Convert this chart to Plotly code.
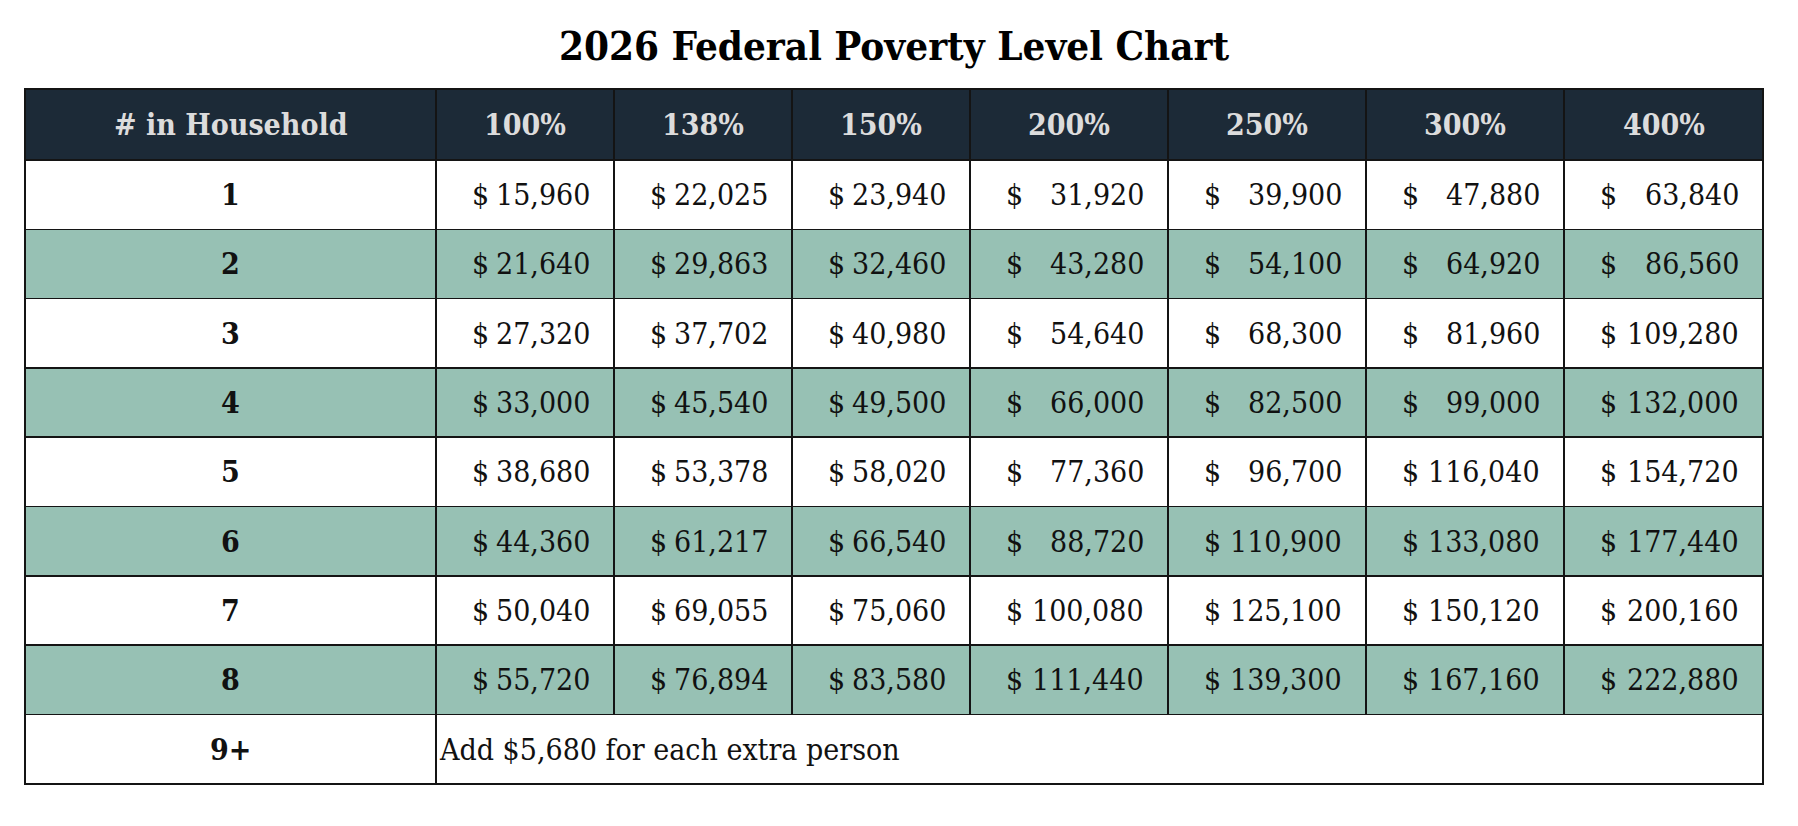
import plotly.graph_objects as go

# 2026 Federal Poverty Level chart, values
household = ["1", "2", "3", "4", "5", "6", "7", "8"]
levels = ["100%", "138%", "150%", "200%", "250%", "300%", "400%"]

fpl_100 = [15960, 21640, 27320, 33000, 38680, 44360, 50040, 55720]
fpl_138 = [22025, 29863, 37702, 45540, 53378, 61217, 69055, 76894]
fpl_150 = [23940, 32460, 40980, 49500, 58020, 66540, 75060, 83580]
fpl_200 = [31920, 43280, 54640, 66000, 77360, 88720, 100080, 111440]
fpl_250 = [39900, 54100, 68300, 82500, 96700, 110900, 125100, 139300]
fpl_300 = [47880, 64920, 81960, 99000, 116040, 133080, 150120, 167160]
fpl_400 = [63840, 86560, 109280, 132000, 154720, 177440, 200160, 222880]

extra_label = "9+"
extra_note = "Add $5,680 for each extra person"

title = "2026 Federal Poverty Level Chart"

# page has an 8px body margin, so the figure is shrunk to fit the window
PAGE = 8
W, H = 1798 - 2 * PAGE, 826 - 2 * PAGE
NAVY = "#1c2a37"
GREEN = "#97c1b4"
LINE = "#141414"
FONT = "DejaVu Serif Condensed, DejaVu Serif, serif"

colwidths = [411, 178, 178, 178, 198, 198, 198, 199]
left = 25 - PAGE
top = 89 - PAGE
header_h = 71
row_h = 69.3

columns = [fpl_100, fpl_138, fpl_150, fpl_200, fpl_250, fpl_300, fpl_400]
n_rows = len(household)
table_w = sum(colwidths)
table_h = header_h + row_h * (n_rows + 1)

edges = [0]
for w in colwidths:
    edges.append(edges[-1] + w)

row_fill = ["white" if i % 2 == 0 else GREEN for i in range(n_rows)]
x_dom = [left / W, (left + table_w) / W]


def ytop(px):
    return 1 - px / H


fig = go.Figure()

# grid and fills; text is laid over with annotations so it can sit mid-cell
fig.add_trace(go.Table(
    domain=dict(x=x_dom, y=[ytop(top + header_h + row_h * n_rows + 4), ytop(top)]),
    columnwidth=colwidths,
    header=dict(
        values=[""] * len(colwidths),
        fill_color=NAVY,
        line=dict(color=LINE, width=1.6),
        height=header_h,
    ),
    cells=dict(
        values=[[""] * n_rows for _ in colwidths],
        fill_color=[row_fill] * len(colwidths),
        line=dict(color=LINE, width=1.6),
        height=row_h,
    ),
    hoverinfo="skip",
))

# last row spans all the percentage columns
fig.add_trace(go.Table(
    domain=dict(x=x_dom, y=[ytop(top + table_h + 4), ytop(top + table_h - row_h)]),
    columnwidth=[colwidths[0], sum(colwidths[1:])],
    header=dict(
        values=["", ""],
        fill_color="white",
        line=dict(color=LINE, width=1.6),
        height=row_h,
    ),
    cells=dict(values=[[], []], height=1),
    hoverinfo="skip",
))

ann = []


def label(x, y, text, anchor="center", size=30, color="#111111"):
    ann.append(dict(
        x=x, y=y, xref="x", yref="y", text=text, showarrow=False,
        xanchor=anchor, yanchor="middle",
        font=dict(family=FONT, size=size, color=color),
    ))


# header
for j, h in enumerate(["# in Household"] + levels):
    label((edges[j] + edges[j + 1]) / 2, header_h / 2, f"<b>{h}</b>", color="#dcdcdc")

# body rows
for i, h in enumerate(household):
    yc = header_h + (i + 0.5) * row_h
    label((edges[0] + edges[1]) / 2, yc, f"<b>{h}</b>")
    for j, col in enumerate(columns):
        label(edges[j + 1] + 34, yc, "$", anchor="left")
        label(edges[j + 2] - 22, yc, f"{col[i]:,}", anchor="right")

# 9+ row
yc = header_h + (n_rows + 0.5) * row_h
label((edges[0] + edges[1]) / 2, yc, f"<b>{extra_label}</b>")
label(edges[1] + 1, yc, extra_note, anchor="left")

fig.update_layout(
    width=W,
    height=H,
    margin=dict(l=0, r=0, t=0, b=0),
    paper_bgcolor="white",
    plot_bgcolor="rgba(0,0,0,0)",
    xaxis=dict(domain=x_dom, range=[0, table_w], visible=False, fixedrange=True),
    yaxis=dict(domain=[ytop(top + table_h), ytop(top)], range=[table_h, 0],
               visible=False, fixedrange=True),
    annotations=ann,
    title=dict(
        text=f"<b>{title}</b>",
        x=(left + table_w / 2) / W,
        xanchor="center",
        y=ytop(46 - PAGE),
        yanchor="middle",
        font=dict(family=FONT, size=40, color="#000000"),
    ),
)

fig.write_html("out.html")
